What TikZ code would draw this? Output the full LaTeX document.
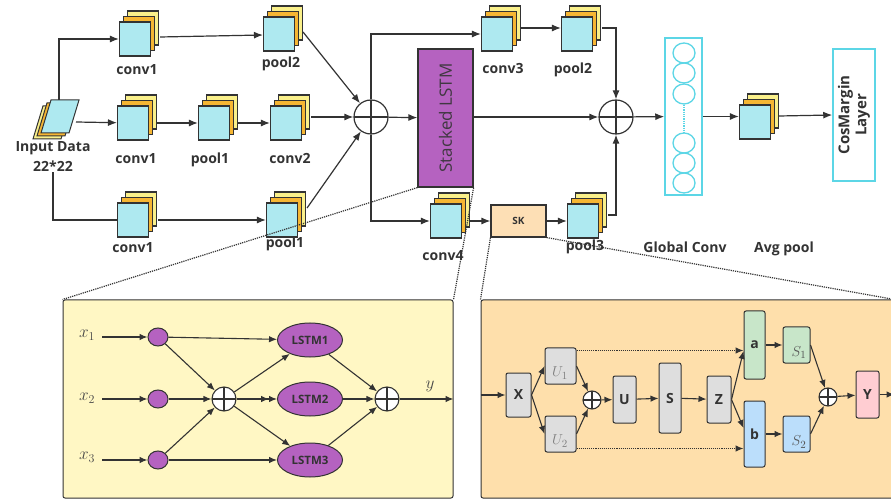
\documentclass[tikz,border=0pt]{standalone}
\usepackage{fontspec}
\setmainfont{Open Sans}
\usetikzlibrary{arrows.meta,calc,shapes.geometric}
\definecolor{ink}{HTML}{333333}
\definecolor{cyanf}{HTML}{AEE9F0}
\definecolor{orangef}{HTML}{F6B633}
\definecolor{yellowf}{HTML}{FAF08A}
\definecolor{purp}{HTML}{B562C0}
\definecolor{cyanl}{HTML}{5CD6E6}
\definecolor{panY}{HTML}{FFF7C4}
\definecolor{panO}{HTML}{FEDFAB}
\definecolor{skf}{HTML}{FDDFB5}
\definecolor{gboxf}{HTML}{DEDEDE}
\definecolor{greenf}{HTML}{C8E6C9}
\definecolor{bluef}{HTML}{BBDEFB}
\definecolor{pinkf}{HTML}{FFCDD2}
\tikzset{
 conn/.style={draw=ink,line width=1.2pt,-{Latex[length=9pt,width=7pt]}},
 plain/.style={draw=ink,line width=1.2pt},
 sconn/.style={draw=ink,line width=1.1pt,-{Latex[length=8pt,width=6.5pt]}},
 dconn/.style={draw=ink,line width=1.1pt,-{Latex[length=8pt,width=6.5pt]Latex[length=8pt,width=6.5pt]}},
 dotl/.style={draw=ink,line width=1.2pt,densely dotted},
 dotarr/.style={draw=ink,line width=1.1pt,densely dotted,-{Latex[length=8pt,width=6.5pt]}},
 lay1/.style={draw=ink,line width=1.1pt,fill=cyanf,minimum width=31pt,minimum height=34pt,inner sep=0pt},
 lay2/.style={lay1,fill=orangef},
 lay3/.style={lay1,fill=yellowf},
 lbl/.style={font=\bfseries\fontsize{14}{17}\selectfont,text=ink,inner sep=0pt},
 mlbl/.style={text=ink!90,font=\fontsize{17}{17}\selectfont,inner sep=0pt},
 bigop/.style={circle,draw=ink,line width=1.2pt,minimum size=34pt,inner sep=0pt,
   path picture={\draw[ink,line width=1.2pt] (path picture bounding box.north) -- (path picture bounding box.south) (path picture bounding box.west) -- (path picture bounding box.east);}},
 smop/.style={bigop,fill=white,line width=1.1pt,minimum size=24pt},
 tnop/.style={bigop,fill=white,line width=1.1pt,minimum size=18pt},
 sbox/.style={draw=ink,line width=1pt,rounded corners=2pt,fill=gboxf,inner sep=0pt,
   font=\bfseries\fontsize{14}{14}\selectfont,text=ink},
 kcirc/.style={ellipse,draw=ink,line width=1pt,fill=purp,minimum width=20pt,minimum height=18pt,inner sep=0pt},
 lstme/.style={ellipse,draw=ink,line width=1pt,fill=purp,minimum width=65pt,minimum height=34pt,inner sep=0pt,
   font=\bfseries\fontsize{11.5}{12}\selectfont,text=ink},
 gcirc/.style={ellipse,draw=cyanl,line width=1.3pt,minimum width=22pt,minimum height=20pt,inner sep=0pt},
}
\newcommand\stk[3]{%
 \node[lay3] (#1-y) at ($(#2,#3)+(8,-11)$) {};
 \node[lay2] (#1-o) at ($(#2,#3)+(4,-5.5)$) {};
 \node[lay1] (#1) at (#2,#3) {};}
\begin{document}
\begin{tikzpicture}[x=1pt,y=-1pt]
\clip (0,0) rectangle (891,502);
\fill[white] (0,0) rectangle (891,502);

% ---------- bottom panels ----------
\node[draw=ink,line width=1pt,fill=panY,rounded corners=2pt,minimum width=390pt,minimum height=198pt,inner sep=0pt] (lp) at (258,399) {};
\node[draw=ink,line width=1pt,fill=panO,rounded corners=2pt,minimum width=413pt,minimum height=198pt,inner sep=0pt] (rp) at (687.5,399) {};

% ---------- input ----------
\filldraw[draw=ink,line width=1pt,fill=yellowf] (43,106) -- (71,106) -- (61,139) -- (33,139) -- cycle;
\filldraw[draw=ink,line width=1pt,fill=orangef] (47,103) -- (75,103) -- (65,136) -- (37,136) -- cycle;
\filldraw[draw=ink,line width=1pt,fill=cyanf] (51,100) -- (79,100) -- (69,133) -- (41,133) -- cycle;
\coordinate (inT) at (59,100);
\coordinate (inR) at (76,122);
\node[lbl,align=center,font=\bfseries\fontsize{14}{20}\selectfont] (inlbl) at (53,157) {Input Data\\22*22};

% ---------- stacks ----------
\stk{c1a}{135}{39}
\stk{p2a}{279}{34}
\stk{c1b}{133}{123}
\stk{p1b}{214}{123}
\stk{c2b}{286}{123}
\stk{c1c}{133}{220}
\stk{p1c}{282}{220}
\stk{c3}{497}{34}
\stk{p2d}{577}{34}
\stk{c4}{446}{221}
\stk{p3}{583}{221}
\stk{avg}{755}{122}

% labels
\node[lbl,anchor=base] (t1) at (137,75) {conv1};
\node[lbl,anchor=base] (t2) at (281,68) {pool2};
\node[lbl,anchor=base] (t3) at (136,164) {conv1};
\node[lbl,anchor=base] (t4) at (210,164) {pool1};
\node[lbl,anchor=base] (t5) at (290,164) {conv2};
\node[lbl,anchor=base] (t6) at (133,253) {conv1};
\node[lbl,anchor=base] (t7) at (285,248) {pool1};
\node[lbl,anchor=base] (t8) at (503,74) {conv3};
\node[lbl,anchor=base] (t9) at (573,74) {pool2};
\node[lbl,anchor=base] (t10) at (443,261) {conv4};
\node[lbl,anchor=base] (t11) at (585,251) {pool3};
\node[lbl,anchor=base] (t12) at (685,253) {Global Conv};
\node[lbl,anchor=base] (t13) at (784,253) {Avg pool};

% ---------- big blocks ----------
\node[bigop] (o1) at (371,117) {};
\node[draw=ink,line width=1.2pt,fill=purp,minimum width=55pt,minimum height=138pt,inner sep=0pt] (lstm) at (445.5,118) {};
\node[rotate=90,text=ink!90!purp,font=\fontsize{17}{17}\selectfont,inner sep=0pt] (lstmt) at (lstm) {Stacked LSTM};
\node[bigop] (o2) at (616,117) {};
\node[draw=cyanl,line width=1.5pt,minimum width=37pt,minimum height=157pt,inner sep=0pt] (gc) at (683.5,116.5) {};
\node[gcirc] (g1) at (684,53) {};
\node[gcirc] (g2) at (684,73) {};
\node[gcirc] (g3) at (684,94) {};
\node[gcirc] (g4) at (684,143) {};
\node[gcirc] (g5) at (684,163) {};
\node[gcirc] (g6) at (684,183) {};
\draw[cyanl,line width=1.3pt,densely dotted] (g3.south) -- (g4.north);
\node[draw=cyanl,line width=1.5pt,minimum width=42pt,minimum height=132pt,inner sep=0pt] (cos) at (854,115) {};
\node[rotate=90,align=center,font=\bfseries\fontsize{15}{17}\selectfont,text=ink,inner sep=0pt] (cost) at (cos) {CosMargin\\Layer};
\node[draw=ink,line width=1.1pt,fill=skf,minimum width=55pt,minimum height=32pt,inner sep=0pt,font=\bfseries\fontsize{10}{10}\selectfont,text=ink] (sk) at (518.5,221) {SK};

% ---------- top connectors ----------
\draw[conn] (inT) |- (c1a);
\draw[conn] (inR) -- (c1b);
\draw[plain] (inlbl.south) |- (c1c);
\draw[conn] ($(c1a.east)+(9,-2)$) -- ($(p2a.west)+(0,1)$);
\draw[conn] ($(c1b.east)+(8,0)$) -- (p1b);
\draw[conn] ($(p1b.east)+(8,0)$) -- (c2b);
\coordinate (c2bR) at ($(c2b.east)+(9,0)$);
\draw[conn] (c2bR |- o1) -- (o1);
\draw[conn] ($(c1c.east)+(9,0)$) -- (p1c);
\draw[conn] ($(p2a.east)+(8,-2)$) -- (o1);
\draw[conn] ($(p1c.east)+(9,-12)$) -- (o1);
\draw[conn] (o1) |- (c3);
\draw[conn] (o1) |- (c4);
\draw[conn] (o1) -- (lstm);
\draw[conn] ($(c3.east)+(8,-6)$) -- ($(p2d.west)+(0,-6)$);
\draw[conn] ($(p2d.east)+(9,-6)$) -| (o2);
\draw[conn] ($(p3.east)+(9,-6)$) -| (o2);
\draw[conn] (lstm.east |- o2) -- (o2);
\draw[conn] (o2) -- (gc);
\draw[conn] (gc.east) -- (avg.west |- gc.east);
\draw[conn] ($(avg.east)+(8,-6)$) -- (cos.west);
\draw[conn] ($(c4.east)+(8,0)$) -- (sk);
\draw[conn] (sk) -- (p3);

% ---------- left panel ----------
\node[mlbl] (x1) at (87,335) {$x_1$};
\node[mlbl] (x2) at (87,398) {$x_2$};
\node[mlbl] (x3) at (87,457) {$x_3$};
\node[kcirc] (k1) at (158,337) {};
\node[kcirc] (k2) at (158,399) {};
\node[kcirc] (k3) at (158,460) {};
\node[smop] (lo1) at (224,399) {};
\node[lstme] (L1) at (310,340) {LSTM1};
\node[lstme] (L2) at (310,399) {LSTM2};
\node[lstme] (L3) at (310,460) {LSTM3};
\node[smop] (lo2) at (387,399) {};
\node[mlbl] (yl) at (430,386) {$y$};
\draw[sconn] ($(x1.east)+(7,2)$) -- (k1);
\draw[sconn] ($(x2.east)+(7,1)$) -- (k2);
\draw[sconn] ($(x3.east)+(7,3)$) -- (k3);
\draw[sconn] (k1) -- (L1);
\draw[sconn] (k1) -- (lo1);
\draw[sconn] (k2) -- (lo1);
\draw[sconn] (k3) -- (lo1);
\draw[sconn] (k3) -- (L3);
\draw[sconn] (lo1) -- (L1);
\draw[dconn] (lo1) -- (L2);
\draw[sconn] (lo1) -- (L3);
\draw[sconn] (L1) -- (lo2);
\draw[sconn] (L2) -- (lo2);
\draw[sconn] (L3) -- (lo2);
\draw[sconn] (lo2) -- (lp.east |- lo2);

% ---------- right panel ----------
\node[sbox,minimum width=25pt,minimum height=44pt] (X) at (518.5,395) {X};
\node[sbox,minimum width=31pt,minimum height=36pt] (U1) at (560.5,366) {};
\node[sbox,minimum width=31pt,minimum height=36pt] (U2) at (560.5,434) {};
\node[text=gray,font=\fontsize{15}{15}\selectfont,inner sep=0pt] (U1t) at (560,373) {$U_1$};
\node[text=gray,font=\fontsize{15}{15}\selectfont,inner sep=0pt] (U2t) at (560,441) {$U_2$};
\node[tnop] (ro1) at (592,400) {};
\node[sbox,minimum width=23pt,minimum height=47pt] (U) at (624.5,399.5) {U};
\node[sbox,minimum width=22pt,minimum height=70pt] (S) at (670,398) {S};
\node[sbox,minimum width=24pt,minimum height=47pt] (Z) at (719,399.5) {Z};
\node[sbox,fill=greenf,minimum width=21pt,minimum height=68pt] (a) at (754.5,345) {a};
\node[sbox,fill=bluef,minimum width=21pt,minimum height=66pt] (b) at (754.5,434) {b};
\node[sbox,fill=greenf,minimum width=27pt,minimum height=36pt] (S1) at (796.5,345) {};
\node[sbox,fill=bluef,minimum width=27pt,minimum height=36pt] (S2) at (796.5,434) {};
\node[text=ink!85,font=\fontsize{15}{15}\selectfont,inner sep=0pt] (S1t) at (799,353) {$S_1$};
\node[text=ink!85,font=\fontsize{15}{15}\selectfont,inner sep=0pt] (S2t) at (799,442) {$S_2$};
\node[tnop] (ro2) at (828,397) {};
\node[sbox,fill=pinkf,minimum width=23pt,minimum height=47pt] (Y) at (867.5,394.5) {Y};
\draw[sconn] (rp.west |- X) -- (X);
\draw[sconn] (X.east) -- (U1.west);
\draw[sconn] (X.east) -- (U2.west);
\draw[sconn] (U1.east) -- (ro1);
\draw[sconn] (U2.east) -- (ro1);
\draw[sconn] (ro1) -- (U);
\draw[sconn] (U) -- (S);
\draw[sconn] (S) -- (Z);
\draw[sconn] (Z.east) -- ($(a.west)+(0,6)$);
\draw[sconn] (Z.east) -- ($(b.west)+(0,-6)$);
\coordinate (u1d) at ($(U1.north east)+(0,3)$);
\coordinate (u2d) at ($(U2.south east)+(0,-4)$);
\draw[dotarr] (u1d) -- (a.west |- u1d);
\draw[dotarr] (u2d) -- (b.west |- u2d);
\draw[sconn] (a) -- (S1);
\draw[sconn] (b) -- (S2);
\draw[sconn] (S1.east) -- (ro2);
\draw[sconn] (S2.east) -- (ro2);
\draw[sconn] (ro2) -- (Y);
\draw[sconn] (Y) -- (rp.east |- Y);

% ---------- zoom lines ----------
\draw[dotl] (lstm.south west) -- (lp.north west);
\draw[dotl] (lstm.south east) -- (lp.north east);
\draw[dotl] (sk.south west) -- (rp.north west);
\draw[dotl] (sk.south east) -- (rp.north east);
\end{tikzpicture}
\end{document}
